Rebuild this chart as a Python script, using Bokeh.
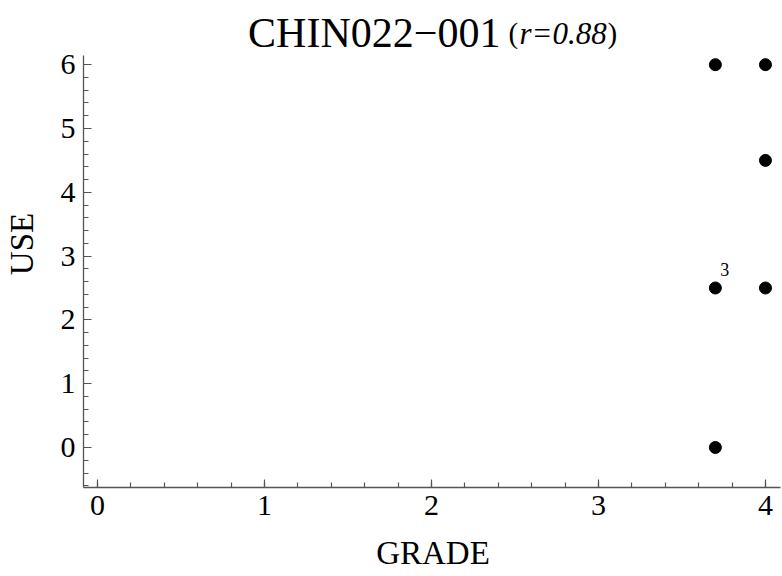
from bokeh.plotting import figure
from bokeh.models import Label, LabelSet, SingleIntervalTicker, Range1d, ColumnDataSource
from bokeh.core.properties import value
from bokeh.embed import file_html
from bokeh.resources import INLINE

# ---- data ----
grade = [3.7, 4.0, 4.0, 3.7, 4.0, 3.7]
use = [6.0, 6.0, 4.5, 2.5, 2.5, 0.0]
counts = ["", "", "", "3", "", ""]
title_main = "CHIN022\u2212001"
r_text = "r=0.88"
x_label = "GRADE"
y_label = "USE"

FONT = "Liberation Serif"
AXC = "#555555"

x_lo, x_hi = -0.0838, 4.09
y_lo, y_hi = -0.627, 6.14

p = figure(width=782, height=576, output_backend="svg", toolbar_location=None,
           title=None,
           x_range=Range1d(x_lo, 4.102), y_range=Range1d(y_lo, 7.006),
           min_border_left=83, min_border_right=0, min_border_top=0,
           min_border_bottom=89)
p.grid.visible = False
p.outline_line_color = None
p.background_fill_color = "white"
p.border_fill_color = "white"

p.xaxis.ticker = SingleIntervalTicker(interval=1, num_minor_ticks=5)
p.yaxis.ticker = SingleIntervalTicker(interval=1, num_minor_ticks=5)
p.xaxis.bounds = (x_lo, x_hi)
p.yaxis.bounds = (y_lo, y_hi)
for ax in (p.xaxis[0], p.yaxis[0]):
    ax.axis_line_color = AXC
    ax.axis_line_width = 1.3
    ax.major_tick_line_color = AXC
    ax.minor_tick_line_color = AXC
    ax.major_tick_line_width = 1.2
    ax.minor_tick_line_width = 1.2
    ax.major_tick_in = 8
    ax.major_tick_out = 0
    ax.minor_tick_in = 5
    ax.minor_tick_out = 0
    ax.major_label_text_font = FONT
    ax.major_label_text_font_size = "30px"
    ax.major_label_text_color = "black"
    ax.axis_label_text_font = FONT
    ax.axis_label_text_font_size = "33px"
    ax.axis_label_text_font_style = "normal"
    ax.axis_label_text_color = "black"

p.xaxis.axis_label = x_label
p.yaxis.axis_label = y_label
p.xaxis.major_label_standoff = 8
p.yaxis.major_label_standoff = 8
p.xaxis.axis_label_standoff = 17
p.yaxis.axis_label_standoff = 18

src = ColumnDataSource(dict(x=grade, y=use, c=counts))
p.scatter("x", "y", source=src, size=12, color="black")
p.add_layout(LabelSet(x="x", y="y", text="c", source=src, x_offset=5, y_offset=12,
                      text_font=value(FONT), text_font_size="18px",
                      text_baseline="alphabetic", text_color="black"))

# title pieces
ax_x = 2.413
ty = 6.49
p.add_layout(Label(x=ax_x, y=ty, text=title_main, text_align="right",
                   text_baseline="alphabetic", text_font=FONT,
                   text_font_size="42px", text_color="black"))
p.add_layout(Label(x=ax_x, y=ty, x_offset=8, text="(", text_align="left",
                   text_baseline="alphabetic", text_font=FONT,
                   text_font_size="29px", text_color="black"))
p.add_layout(Label(x=ax_x, y=ty, x_offset=19, text=r_text, text_align="left",
                   text_baseline="alphabetic", text_font=FONT,
                   text_font_style="italic",
                   text_font_size="31px", text_color="black"))
p.add_layout(Label(x=ax_x, y=ty, x_offset=107, text=")", text_align="left",
                   text_baseline="alphabetic", text_font=FONT,
                   text_font_size="29px", text_color="black"))

open("out.html", "w").write(file_html(p, INLINE))
